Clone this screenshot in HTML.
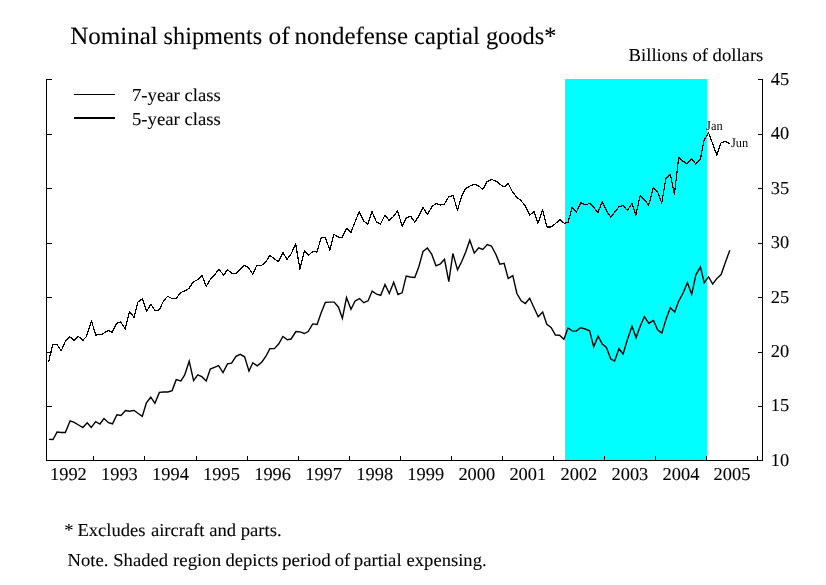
<!DOCTYPE html>
<html><head><meta charset="utf-8"><style>
html,body{margin:0;padding:0;background:#fff;}
svg{display:block;}
text{font-family:"Liberation Serif",serif;fill:#000;stroke:#000;stroke-width:0.1px;text-rendering:geometricPrecision;} text.sm{stroke:none;}
</style></head><body>
<svg width="826" height="585" viewBox="0 0 826 585">
<rect width="826" height="585" fill="#fff"/>
<rect x="565" y="79" width="142" height="381" fill="#00ffff"/>
<path d="M51.5,79.5 H46.5 V460.5 H762.5 V79.5 H757.5" fill="none" stroke="#000" stroke-width="1.2" shape-rendering="crispEdges"/>
<path d="M46.5,406.5 h5 M762.5,406.5 h-5 M46.5,352.5 h5 M762.5,352.5 h-5 M46.5,297.5 h5 M762.5,297.5 h-5 M46.5,243.5 h5 M762.5,243.5 h-5 M46.5,188.5 h5 M762.5,188.5 h-5 M46.5,134.5 h5 M762.5,134.5 h-5 M93.5,460.5 v-5 M144.5,460.5 v-5 M196.5,460.5 v-5 M247.5,460.5 v-5 M298.5,460.5 v-5 M349.5,460.5 v-5 M400.5,460.5 v-5 M451.5,460.5 v-5 M502.5,460.5 v-5 M553.5,460.5 v-5 M604.5,460.5 v-5 M655.5,460.5 v-5 M706.5,460.5 v-5 M757.5,460.5 v-5 " fill="none" stroke="#000" stroke-width="1.2" shape-rendering="crispEdges"/>
<polyline points="48.5,362.5 52.6,344.7 57.1,344.7 61.2,350.9 65.6,340.6 69.8,336.8 73.9,340.3 78.3,336.5 83.0,340.2 86.5,336.5 91.4,320.8 95.8,335.1 98.8,334.7 102.2,334.0 108.4,330.6 112.2,332.4 116.6,323.5 120.7,321.7 125.2,329.0 129.6,311.5 134.1,317.4 137.8,302.2 142.3,298.8 146.7,311.4 150.8,304.3 155.0,310.5 158.0,310.5 160.1,308.1 163.5,300.9 167.6,296.4 172.0,298.4 176.2,298.4 180.6,292.7 184.7,290.9 188.8,288.6 193.2,282.0 197.4,279.7 202.1,275.6 206.2,286.5 210.4,279.3 214.5,274.9 218.9,269.4 223.7,275.2 227.5,269.5 231.6,273.3 236.1,273.3 240.2,269.2 244.4,265.4 248.3,267.5 252.8,274.3 256.7,265.4 261.7,265.4 266.5,260.9 269.9,255.4 274.0,258.6 278.4,261.6 282.9,252.4 287.0,259.5 291.1,254.0 295.6,243.5 299.9,269.1 304.4,250.6 308.6,255.1 313.0,251.5 316.8,252.1 321.2,237.9 325.3,237.5 329.8,250.0 333.9,234.4 338.7,237.2 342.1,237.2 346.7,228.3 351.0,232.3 355.1,221.7 359.2,211.5 363.8,221.0 367.7,224.2 372.0,211.5 376.3,221.7 380.5,224.2 385.0,214.9 389.1,220.6 393.4,216.5 397.6,210.8 402.1,226.1 406.2,217.9 410.7,216.4 414.8,222.2 419.2,215.4 423.0,207.6 427.4,214.3 432.1,206.5 436.0,203.5 440.4,205.1 444.5,204.0 448.8,196.5 453.1,195.6 457.5,210.2 461.6,196.3 465.7,188.5 470.0,186.0 474.6,184.4 478.7,186.0 482.8,189.4 486.9,181.9 491.4,179.4 496.2,181.2 500.3,184.6 504.4,186.9 508.2,183.5 512.3,191.5 516.7,197.3 521.2,200.8 525.6,206.5 529.7,215.1 534.0,211.6 537.9,223.3 542.7,209.9 546.8,227.0 550.9,227.0 555.4,223.6 560.0,219.5 564.3,223.3 568.0,222.5 572.1,207.6 576.5,212.0 580.7,202.7 585.1,204.9 589.6,203.5 593.7,207.2 597.8,212.7 602.2,201.7 606.7,211.3 610.8,217.2 614.9,211.7 619.0,206.8 623.1,205.6 627.2,210.3 632.0,203.8 635.8,215.1 640.2,195.6 644.3,199.7 648.7,205.1 653.2,188.0 657.7,192.1 661.8,203.1 665.9,178.5 670.3,174.4 674.4,194.2 678.7,157.5 682.6,160.9 686.7,163.6 691.7,158.5 695.8,164.0 700.4,159.1 704.2,139.7 708.6,132.8 712.7,143.8 716.8,155.0 721.1,142.8 725.7,141.5 730.0,144.0" fill="none" stroke="#000" stroke-width="1.2" stroke-linejoin="round" shape-rendering="crispEdges"/>
<polyline points="48.9,439.4 53.0,439.5 57.1,432.0 61.2,432.5 65.3,432.5 70.1,420.9 74.2,422.3 78.6,425.0 82.8,427.5 87.2,422.7 91.3,427.5 95.7,421.7 99.9,424.0 104.0,418.6 108.4,422.7 112.5,423.8 116.9,414.7 121.0,415.4 125.5,410.6 129.6,411.3 134.1,410.4 138.2,413.5 142.3,416.3 146.4,402.9 150.8,397.2 154.9,403.3 159.4,392.4 163.5,392.0 167.9,392.0 172.1,390.6 176.2,379.7 180.9,381.0 184.7,374.9 189.2,361.2 193.6,380.6 197.7,374.9 201.8,376.7 206.2,381.0 210.3,369.0 214.4,367.4 218.6,365.6 223.0,372.6 227.5,363.9 231.6,363.2 236.0,356.4 240.2,354.4 244.6,356.8 249.0,371.1 252.8,362.7 257.2,365.9 261.7,362.2 265.8,356.5 269.9,348.6 274.4,348.6 278.8,343.8 282.9,336.5 287.3,339.7 291.1,339.0 295.9,331.5 300.0,331.9 304.4,333.5 308.2,331.5 312.7,323.9 317.1,324.4 320.9,313.4 325.3,302.4 329.8,302.1 334.2,302.1 338.5,307.2 342.4,318.4 346.5,297.6 351.0,309.2 355.1,301.0 359.5,298.6 363.8,302.7 368.1,300.8 372.2,291.1 376.6,294.2 380.7,295.3 385.0,284.4 389.3,293.5 393.7,282.3 398.0,294.5 402.1,292.8 406.2,276.1 410.3,277.0 414.8,277.5 418.9,266.5 423.0,251.5 427.4,248.0 431.7,254.2 436.0,265.8 440.4,263.8 444.5,259.3 448.8,281.6 452.9,253.5 457.5,269.9 461.6,261.7 465.7,252.1 469.8,240.2 474.3,253.2 478.7,247.8 482.8,249.4 487.3,244.6 491.4,246.0 495.8,254.2 499.8,264.1 504.1,263.4 508.2,278.5 512.8,275.7 516.9,293.5 521.2,300.8 525.3,303.5 529.7,298.3 533.8,307.2 538.2,316.8 542.7,312.0 546.8,324.3 551.1,327.4 555.4,335.0 559.5,335.2 563.9,339.3 568.0,328.0 572.1,330.9 576.2,331.1 580.6,327.7 585.1,329.0 589.6,330.8 593.7,346.8 598.1,336.2 602.3,344.0 606.4,347.5 610.8,359.1 614.6,361.1 619.0,348.8 623.1,354.0 627.5,339.2 632.0,326.3 636.1,337.6 640.2,326.3 644.3,316.7 648.8,323.2 653.5,320.4 657.6,329.7 661.8,333.1 666.2,318.7 670.3,307.8 674.7,311.9 678.7,301.1 683.0,293.3 687.4,282.7 691.7,294.3 695.8,275.1 700.4,266.9 704.2,282.7 708.6,276.9 712.7,284.0 716.8,278.6 721.1,274.5 725.7,261.5 729.8,250.2" fill="none" stroke="#000" stroke-width="1.4" stroke-linejoin="miter"/>
<path d="M74,94.5 H115" stroke="#000" stroke-width="1" shape-rendering="crispEdges"/>
<path d="M74,118 H115" stroke="#000" stroke-width="2" shape-rendering="crispEdges"/>
<g style="opacity:0.999">
<text transform="translate(70.21,43.7) scale(1.0129,1)" font-size="24.7">Nominal</text>
<text transform="translate(163.60,43.7) scale(0.9846,1)" font-size="24.7">shipments</text>
<text transform="translate(268.60,43.7) scale(1.0276,1)" font-size="24.7">of</text>
<text transform="translate(294.62,43.7) scale(1.0082,1)" font-size="24.7">nondefense</text>
<text transform="translate(414.03,43.7) scale(0.9990,1)" font-size="24.7">captial</text>
<text transform="translate(485.90,43.7) scale(0.9900,1)" font-size="24.7">goods*</text>
<text transform="translate(628.61,60.9) scale(1.0260,1)" font-size="18.2">Billions of dollars</text>
<text transform="translate(131.98,100.9) scale(1.0295,1)" font-size="18.2">7-year class</text>
<text transform="translate(131.90,124.9) scale(1.0304,1)" font-size="18.2">5-year class</text>
<text transform="translate(64.23,535.7) scale(1.0217,1)" font-size="18.2">*</text>
<text transform="translate(77.41,535.7) scale(1.0217,1)" font-size="18.2">Excludes</text>
<text transform="translate(150.90,535.7) scale(1.0217,1)" font-size="18.2">aircraft</text>
<text transform="translate(209.20,535.7) scale(1.0217,1)" font-size="18.2">and</text>
<text transform="translate(240.76,535.7) scale(1.0217,1)" font-size="18.2">parts.</text>
<text transform="translate(67.61,565.9) scale(1.0218,1)" font-size="18.2">Note.</text>
<text transform="translate(113.25,565.9) scale(1.0218,1)" font-size="18.2">Shaded</text>
<text transform="translate(172.96,565.9) scale(1.0385,1)" font-size="18.2">region</text>
<text transform="translate(225.50,565.9) scale(1.0218,1)" font-size="18.2">depicts</text>
<text transform="translate(282.05,565.9) scale(1.0490,1)" font-size="18.2">period</text>
<text transform="translate(334.67,565.9) scale(1.0218,1)" font-size="18.2">of</text>
<text transform="translate(353.76,565.9) scale(1.0306,1)" font-size="18.2">partial</text>
<text transform="translate(406.57,565.9) scale(1.0218,1)" font-size="18.2">expensing.</text>
<text class="sm" transform="translate(706.11,129.6) scale(0.9337,1)" font-size="13.3">Jan</text>
<text class="sm" transform="translate(731.01,146.8) scale(0.9305,1)" font-size="13.3">Jun</text>
<text transform="translate(770.7,465.8) scale(1.012,1)" font-size="18.2">10</text>
<text transform="translate(770.7,411.4) scale(1.012,1)" font-size="18.2">15</text>
<text transform="translate(770.7,356.9) scale(1.012,1)" font-size="18.2">20</text>
<text transform="translate(770.7,302.5) scale(1.012,1)" font-size="18.2">25</text>
<text transform="translate(770.7,248.1) scale(1.012,1)" font-size="18.2">30</text>
<text transform="translate(770.7,193.7) scale(1.012,1)" font-size="18.2">35</text>
<text transform="translate(770.7,139.2) scale(1.012,1)" font-size="18.2">40</text>
<text transform="translate(770.7,84.8) scale(1.012,1)" font-size="18.2">45</text>
<text transform="translate(68.4,479.6) scale(1.012,1)" font-size="18.2" text-anchor="middle">1992</text>
<text transform="translate(119.4,479.6) scale(1.012,1)" font-size="18.2" text-anchor="middle">1993</text>
<text transform="translate(170.5,479.6) scale(1.012,1)" font-size="18.2" text-anchor="middle">1994</text>
<text transform="translate(221.5,479.6) scale(1.012,1)" font-size="18.2" text-anchor="middle">1995</text>
<text transform="translate(272.6,479.6) scale(1.012,1)" font-size="18.2" text-anchor="middle">1996</text>
<text transform="translate(323.6,479.6) scale(1.012,1)" font-size="18.2" text-anchor="middle">1997</text>
<text transform="translate(374.7,479.6) scale(1.012,1)" font-size="18.2" text-anchor="middle">1998</text>
<text transform="translate(425.7,479.6) scale(1.012,1)" font-size="18.2" text-anchor="middle">1999</text>
<text transform="translate(476.8,479.6) scale(1.012,1)" font-size="18.2" text-anchor="middle">2000</text>
<text transform="translate(527.8,479.6) scale(1.012,1)" font-size="18.2" text-anchor="middle">2001</text>
<text transform="translate(578.9,479.6) scale(1.012,1)" font-size="18.2" text-anchor="middle">2002</text>
<text transform="translate(629.9,479.6) scale(1.012,1)" font-size="18.2" text-anchor="middle">2003</text>
<text transform="translate(681.0,479.6) scale(1.012,1)" font-size="18.2" text-anchor="middle">2004</text>
<text transform="translate(732.0,479.6) scale(1.012,1)" font-size="18.2" text-anchor="middle">2005</text>
</g>
</svg>
</body></html>
